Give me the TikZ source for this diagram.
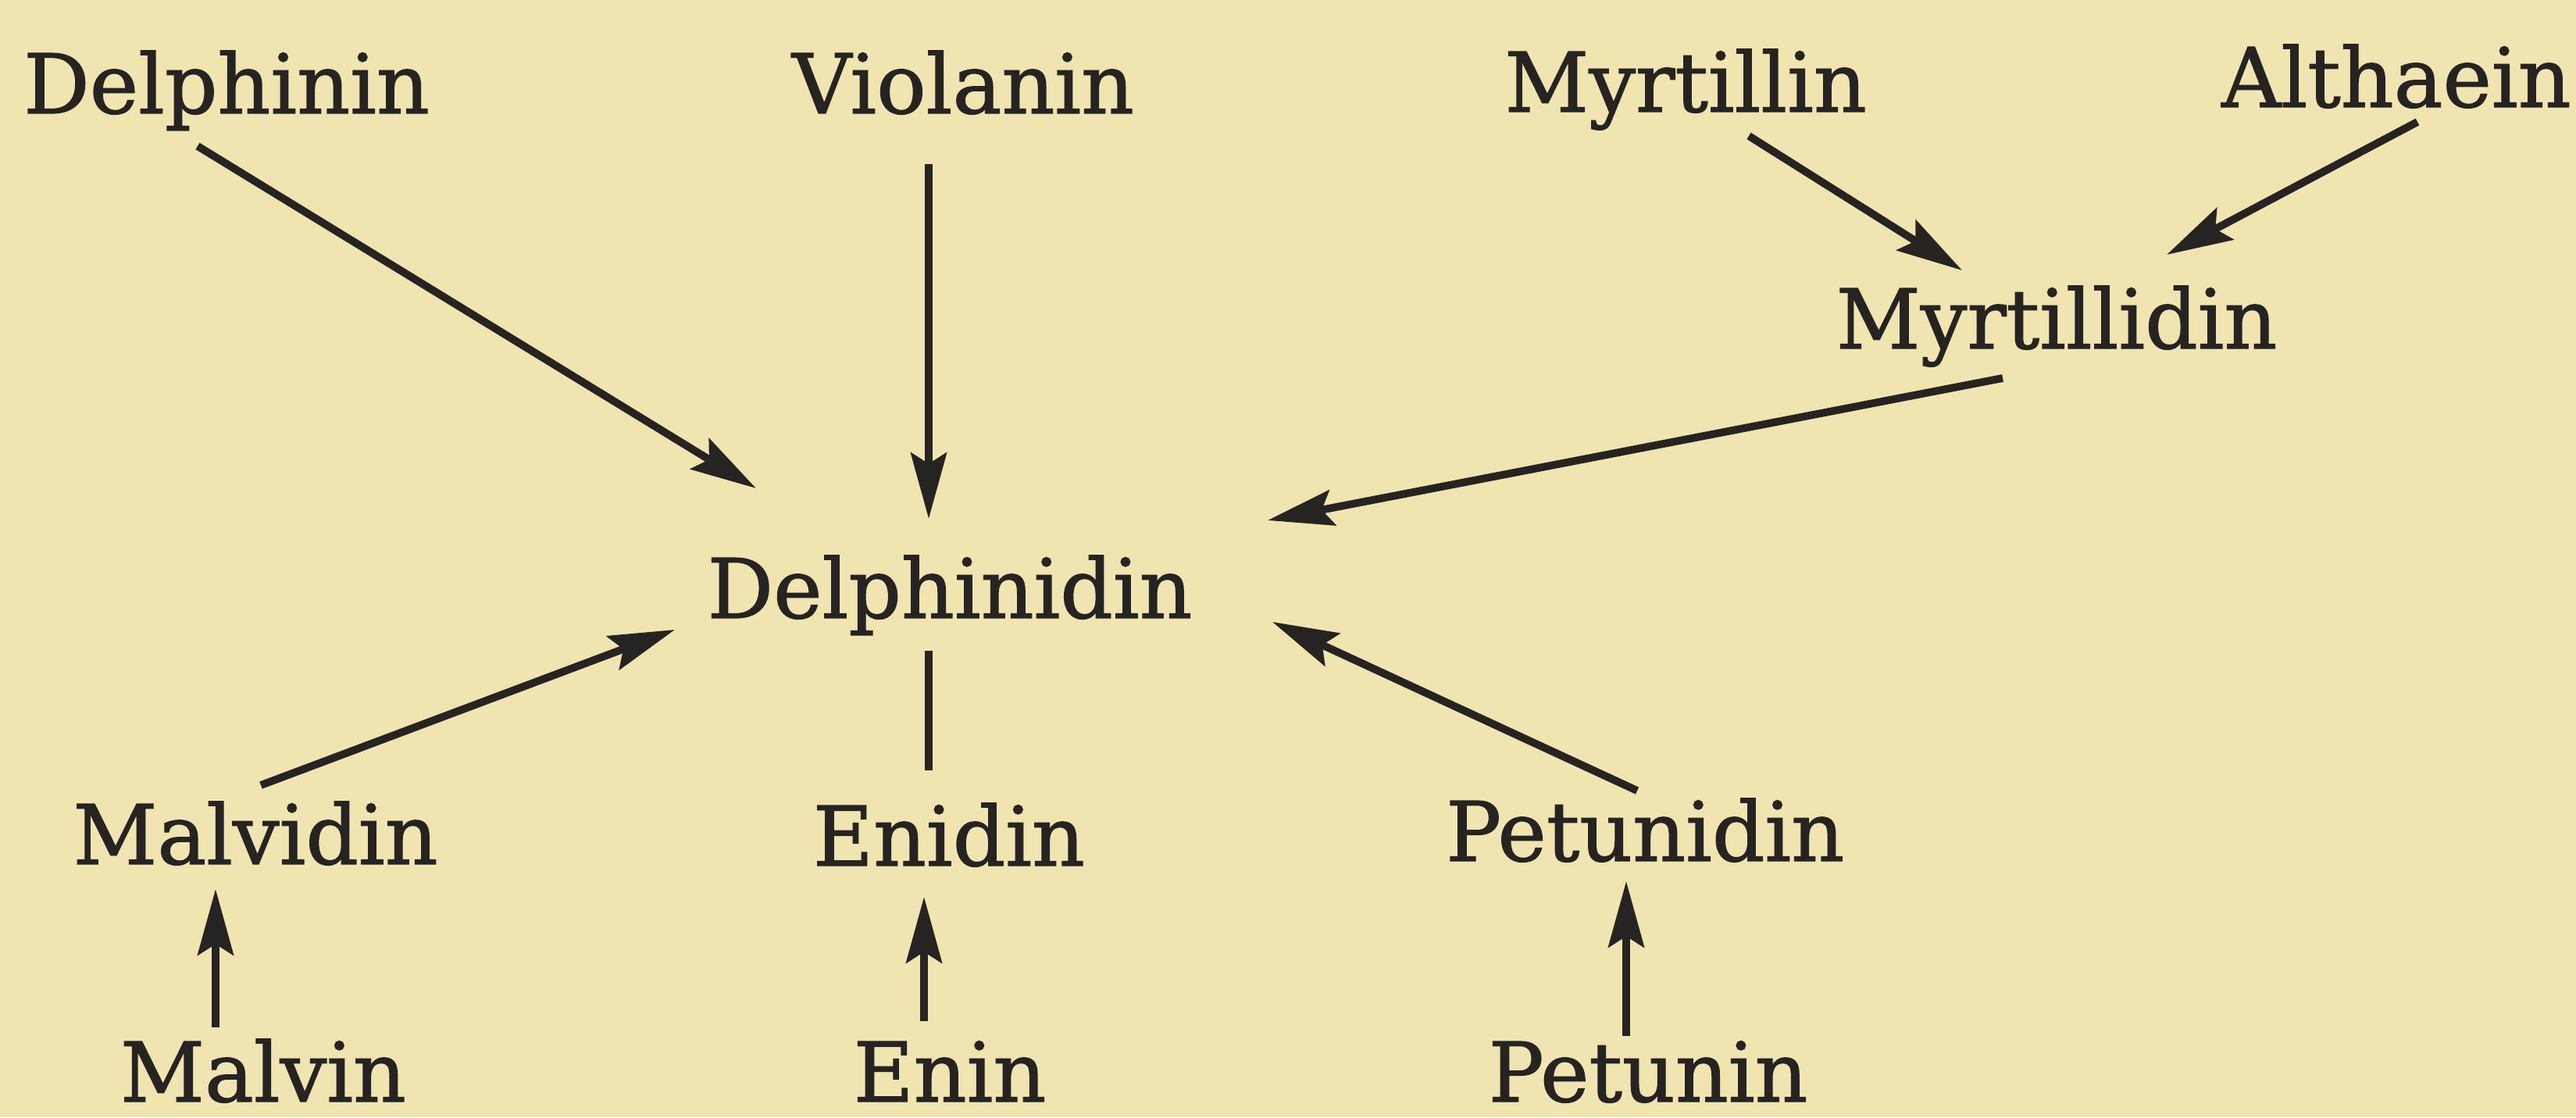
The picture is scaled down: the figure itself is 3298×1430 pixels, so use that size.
\documentclass[tikz,border=0pt]{standalone}
\usepackage{fontspec}
\setmainfont{DejaVu Serif}
\newfontfamily\lblfont[FakeBold=1.2]{DejaVu Serif}
\usetikzlibrary{arrows.meta,calc}
\definecolor{paper}{RGB}{240,228,176}
\definecolor{ink}{RGB}{38,36,34}
\tikzset{
  lbl/.style={anchor=base, inner sep=0pt, text=ink, font=\lblfont\fontsize{30}{36}\selectfont},
  arr/.style={draw=ink, line width=2.8pt, -{Stealth[length=24pt,width=13pt,inset=4pt]}},
  plain/.style={draw=ink, line width=2.8pt}
}
\begin{document}
\begin{tikzpicture}[x=0.01cm,y=-0.01cm]
\useasboundingbox (0,0) rectangle (3298,1430);
\fill[paper] (0,0) rectangle (3298,1430);
% nodes
\node[lbl] (dphn)  at (290,145)   {Delphinin};
\node[lbl] (viol)  at (1233,145)  {Violanin};
\node[lbl] (myrt)  at (2158,143)  {Myrtillin};
\node[lbl] (alth)  at (3068,137)  {Althaein};
\node[lbl] (myrd)  at (2633,446)  {Myrtillidin};
\node[lbl] (deld)  at (1216,791)  {Delphinidin};
\node[lbl] (malvd) at (327,1106)  {Malvidin};
\node[lbl] (enid)  at (1215,1108) {Enidin};
\node[lbl] (petd)  at (2106,1102) {Petunidin};
\node[lbl] (malv)  at (337,1410)  {Malvin};
\node[lbl] (enin)  at (1216,1410) {Enin};
\node[lbl] (petn)  at (2110,1410) {Petunin};
% connectors
\draw[arr] ($(dphn.base)+(-37,42)$) -- ($(deld.base)+(-248,-166)$);
\draw[arr] ($(viol.base)+(-44,65)$) -- ($(deld.base)+(-27,-127)$);
\draw[arr] ($(myrt.base)+(81,31)$) -- ($(myrd.base)+(-121,-100)$);
\draw[arr] ($(alth.base)+(27,19)$) -- ($(myrd.base)+(141,-120)$);
\draw[arr] ($(myrd.base)+(-69,38)$) -- ($(deld.base)+(407,-125)$);
\draw[arr] ($(malvd.base)+(7,-101)$) -- ($(deld.base)+(-352,15)$);
\draw[plain] ($(deld.base)+(-27,42)$) -- ($(enid.base)+(-26,-122)$);
\draw[arr] ($(petd.base)+(-10,-90)$) -- ($(deld.base)+(413,5)$);
\draw[arr] ($(malv.base)+(-61,-95)$) -- ($(malvd.base)+(-51,32)$);
\draw[arr] ($(enin.base)+(-33,-103)$) -- ($(enid.base)+(-32,40)$);
\draw[arr] ($(petn.base)+(-28,-84)$) -- ($(petd.base)+(-24,26)$);
\end{tikzpicture}
\end{document}
